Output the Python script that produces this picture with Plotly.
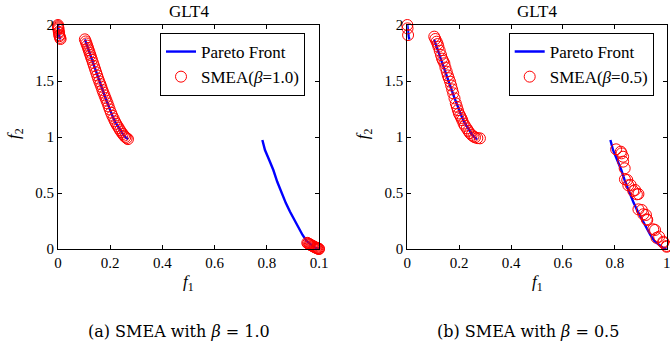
import plotly.graph_objects as go

# ---------------- data ----------------
# Pareto front (three disconnected segments, None separates them)
pf_x = [0.0, 0.001, 0.003, 0.005, 0.008, None,
        0.103, 0.11, 0.12, 0.13, 0.14, 0.15, 0.161, 0.17, 0.18, 0.19, 0.199, 0.21, 0.22, 0.23, 0.238, 0.25, 0.26, 0.269, None,
        0.783, 0.793, 0.81, 0.825, 0.84, 0.857, 0.873, 0.889, 0.905, 0.921, 0.937, 0.953, 0.97, 0.985, 1.0]
pf_y = [2.0, 1.97, 1.93, 1.90, 1.87, None,
        1.872, 1.83, 1.76, 1.69, 1.62, 1.55, 1.479, 1.42, 1.36, 1.30, 1.24, 1.18, 1.13, 1.09, 1.06, 1.02, 0.995, 0.98, None,
        0.973, 0.884, 0.79, 0.705, 0.60, 0.497, 0.41, 0.333, 0.26, 0.185, 0.125, 0.07, 0.035, 0.012, 0.0]

# SMEA(beta=1.0)
smea1_x = [0.0, 0.0, 0.001, 0.001, 0.002, 0.003, 0.004, 0.005, 0.006, 0.008, 0.01,
           0.103, 0.106, 0.109, 0.112, 0.115, 0.118, 0.121, 0.124, 0.127, 0.130, 0.134, 0.138, 0.142, 0.146,
           0.150, 0.154, 0.158, 0.162, 0.166, 0.170, 0.174, 0.178, 0.182, 0.186, 0.190, 0.194, 0.198, 0.203,
           0.208, 0.213, 0.218, 0.223, 0.228, 0.233, 0.238, 0.243, 0.248, 0.253, 0.258, 0.263, 0.268,
           0.955, 0.958, 0.962, 0.965, 0.968, 0.972, 0.975, 0.978, 0.981, 0.984, 0.987, 0.99, 0.993, 0.996, 0.999, 1.0]
smea1_y = [2.0, 1.99, 1.98, 1.97, 1.96, 1.94, 1.93, 1.91, 1.90, 1.885, 1.875,
           1.872, 1.853, 1.835, 1.816, 1.795, 1.774, 1.753, 1.732, 1.711, 1.690, 1.662, 1.634, 1.606, 1.578,
           1.550, 1.522, 1.497, 1.473, 1.449, 1.420, 1.396, 1.372, 1.348, 1.324, 1.300, 1.273, 1.246, 1.217,
           1.190, 1.165, 1.140, 1.118, 1.098, 1.080, 1.060, 1.043, 1.027, 1.012, 1.000, 0.990, 0.981,
           0.055, 0.05, 0.045, 0.04, 0.036, 0.032, 0.028, 0.024, 0.02, 0.017, 0.013, 0.01, 0.007, 0.004, 0.002, 0.0]

# SMEA(beta=0.5)
smea2_x = [0.0, 0.001, 0.003,
           0.104, 0.108, 0.113, 0.117, 0.12, 0.125, 0.13, 0.134, 0.138, 0.143, 0.147, 0.152, 0.156, 0.160,
           0.165, 0.169, 0.173, 0.177, 0.182, 0.187, 0.191, 0.195, 0.199, 0.204, 0.208, 0.212, 0.217, 0.222,
           0.229, 0.235, 0.241, 0.248, 0.255, 0.261, 0.27, 0.28,
           0.805, 0.823, 0.832, 0.826, 0.832, 0.838, 0.839, 0.848, 0.852, 0.861, 0.871, 0.878, 0.885, 0.891,
           0.891, 0.904, 0.91, 0.92, 0.923, 0.925, 0.948, 0.955, 0.961, 0.971, 0.987, 0.987, 1.0, 1.0]
smea2_y = [2.0, 1.97, 1.91,
           1.896, 1.875, 1.851, 1.83, 1.806, 1.77, 1.732, 1.70, 1.68, 1.658, 1.62, 1.583, 1.55, 1.525,
           1.494, 1.46, 1.425, 1.39, 1.345, 1.30, 1.27, 1.24, 1.21, 1.19, 1.17, 1.15, 1.12, 1.10,
           1.077, 1.055, 1.035, 1.018, 1.005, 0.997, 0.99, 0.988,
           0.89, 0.869, 0.824, 0.854, 0.78, 0.72, 0.622, 0.616, 0.569, 0.571, 0.518, 0.527, 0.488, 0.491,
           0.354, 0.348, 0.31, 0.304, 0.265, 0.259, 0.176, 0.17, 0.1, 0.11, 0.065, 0.056, 0.027, 0.02]

x_tickvals = [0, 0.2, 0.4, 0.6, 0.8, 1.0]
x_ticktext_left = ["0", "0.2", "0.4", "0.6", "0.8", "0.1"]
x_ticktext_right = ["0", "0.2", "0.4", "0.6", "0.8", "1"]
y_tickvals = [0, 0.5, 1, 1.5, 2]
y_ticktext = ["0", "0.5", "1", "1.5", "2"]

titles = ["GLT4", "GLT4"]
captions = ["(a) SMEA with <i>β</i> = 1.0", "(b) SMEA with <i>β</i> = 0.5"]
smea_names = ["SMEA(<i>β</i>=1.0)", "SMEA(<i>β</i>=0.5)"]

# ---------------- figure ----------------
W, H = 670, 352
SERIF = "Liberation Serif, Times New Roman, serif"
CAPFONT = "DejaVu Serif, serif"

fig = go.Figure()

doms = [(58 / W, 319 / W), (407.3 / W, 666.7 / W)]
ydom = ((352 - 249) / H, (352 - 25) / H)
smea_sets = [(smea1_x, smea1_y), (smea2_x, smea2_y)]
legend_names = ["legend", "legend2"]
legend_x = [160 / W, 508.7 / W]

for i in range(2):
    xa = "x" if i == 0 else "x2"
    ya = "y" if i == 0 else "y2"
    fig.add_trace(go.Scatter(
        x=pf_x, y=pf_y, mode="lines", name="Pareto Front",
        line=dict(color="#0000FF", width=2.4), xaxis=xa, yaxis=ya,
        legend=legend_names[i], connectgaps=False))
    sx, sy = smea_sets[i]
    fig.add_trace(go.Scatter(
        x=sx, y=sy, mode="markers", name=smea_names[i],
        marker=dict(symbol="circle-open", color="#FF0000", size=11, line=dict(width=1)),
        xaxis=xa, yaxis=ya, legend=legend_names[i], cliponaxis=False))

axis_common = dict(
    showgrid=False, zeroline=False, showline=True, linecolor="black", linewidth=1,
    mirror="ticks", ticks="inside", ticklen=4, tickcolor="black", automargin=False,
    ticklabeloverflow="allow",
    tickfont=dict(family=SERIF, size=15, color="black"), fixedrange=True)

fig.update_layout(
    template="none",
    width=W, height=H, margin=dict(l=0, r=0, t=0, b=0, autoexpand=False),
    paper_bgcolor="white", plot_bgcolor="white", showlegend=True,
    xaxis=dict(domain=list(doms[0]), range=[0, 1], anchor="y",
               tickvals=x_tickvals, ticktext=x_ticktext_left, **axis_common),
    yaxis=dict(domain=list(ydom), range=[0, 2], anchor="x",
               tickvals=y_tickvals, ticktext=y_ticktext, **axis_common),
    xaxis2=dict(domain=list(doms[1]), range=[0, 1], anchor="y2",
                tickvals=x_tickvals, ticktext=x_ticktext_right, **axis_common),
    yaxis2=dict(domain=list(ydom), range=[0, 2], anchor="x2",
                tickvals=y_tickvals, ticktext=y_ticktext, **axis_common),
)

for i, ln in enumerate(legend_names):
    fig.update_layout({ln: dict(
        x=legend_x[i], y=(352 - 33) / H, xanchor="left", yanchor="top",
        bgcolor="white", bordercolor="black", borderwidth=1,
        font=dict(family=SERIF, size=17, color="black"),
        tracegroupgap=0, itemwidth=30)})

annotations = []
def ann(text, x, y, size, angle=0, family=SERIF):
    return dict(text=text, x=x, y=y, xref="paper", yref="paper", xanchor="center", yanchor="middle",
                showarrow=False, textangle=angle, font=dict(family=family, size=size, color="black"))

for i in range(2):
    cx = (doms[i][0] + doms[i][1]) / 2
    annotations.append(ann(titles[i], cx, (352 - 12) / H, 17))
    annotations.append(ann("<i>f</i><sub>1</sub>", cx, (352 - 283) / H, 17))
    annotations.append(ann("<i>f</i><sub>2</sub>", (doms[i][0] * W - 43) / W, (352 - 134) / H, 17, -90))
    annotations.append(ann(captions[i], cx - 9 / W, (352 - 331) / H, 16, family=CAPFONT))
fig.update_layout(annotations=annotations)

fig.write_html("out.html", config={"displayModeBar": False, "staticPlot": True},
               post_script="document.body.style.margin='0';document.body.style.overflow='hidden';")
